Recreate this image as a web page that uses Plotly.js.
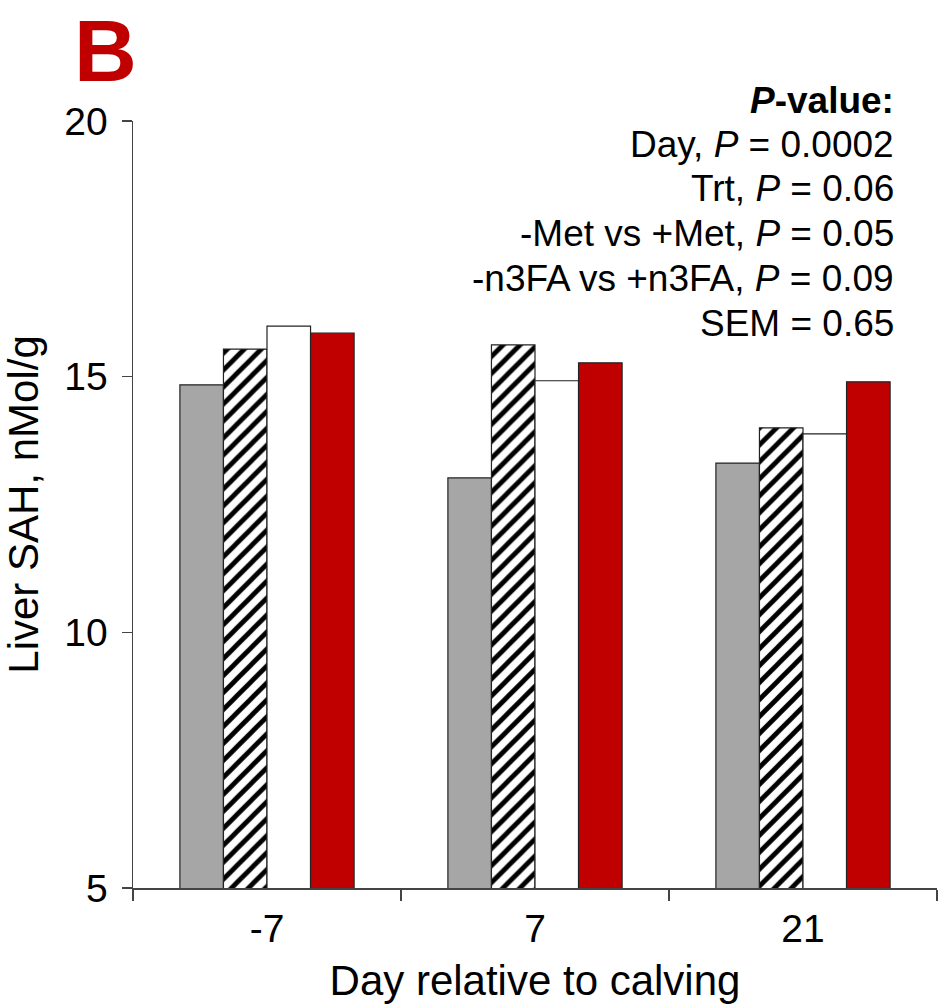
<!DOCTYPE html>
<html><head><meta charset="utf-8">
<script src="https://cdn.plot.ly/plotly-3.0.1.min.js"></script>
<style>html,body{margin:0;padding:0;background:#fff}</style>
</head><body>
<div id="chart" style="width:948px;height:1008px"></div>
<script>
const categories = ["-7", "7", "21"];
const seriesNames = ["-Met -n3FA", "+Met -n3FA", "-Met +n3FA", "+Met +n3FA"];
const ctrl = [14.84, 13.02, 13.31];
const met = [15.54, 15.62, 14.00];
const n3fa = [15.99, 14.92, 13.88];
const metN3fa = [15.85, 15.27, 14.90];
const yTicks = [5, 10, 15, 20];
const pLines = ["Day, <i>P</i> = 0.0002", "Trt, <i>P</i> = 0.06", "-Met vs +Met, <i>P</i> = 0.05", "-n3FA vs +n3FA, <i>P</i> = 0.09", "SEM = 0.65"];

const FONT = "Liberation Sans, Arial, sans-serif";
const line = {color: "#222", width: 1.2};
const traces = [
  {y: ctrl, marker: {color: "#a6a6a6", line: line}},
  {y: met, marker: {color: "#ffffff", line: line, pattern: {shape: "/", fgcolor: "#000", bgcolor: "#fff", size: 12, solidity: 0.4}}},
  {y: n3fa, marker: {color: "#ffffff", line: line}},
  {y: metN3fa, marker: {color: "#c00000", line: line}}
].map((t, i) => Object.assign({type: "bar", x: categories, name: seriesNames[i], hoverinfo: "y"}, t));

const annotations = [
  {text: "<b><i>P</i>-value:</b>", x: 0.949, y: (888 - 100) / 767}
].concat(pLines.map((t, i) => ({text: t, x: 0.949, y: (888 - (144 + 44.8 * i)) / 767})))
 .map(a => Object.assign({xref: "paper", yref: "paper", xanchor: "right", yanchor: "middle", showarrow: false, font: {family: FONT, size: 37, color: "#000"}}, a));
annotations.push({text: "<b>B</b>", xref: "paper", yref: "paper", x: (72 - 133) / 804, y: 888 / 767, xanchor: "left", yanchor: "top", showarrow: false, font: {family: FONT, size: 87, color: "#c00000"}});

const layout = {
  width: 948, height: 1008,
  margin: {l: 133, r: 11, t: 121, b: 120},
  paper_bgcolor: "#fff", plot_bgcolor: "#fff",
  barmode: "group", bargap: 0.35, bargroupgap: 0,
  showlegend: false,
  font: {family: FONT, color: "#000"},
  xaxis: {
    type: "category", range: [-0.5, 2.5],
    showline: true, linecolor: "#444", linewidth: 1.5,
    ticks: "outside", tickson: "boundaries", ticklen: 11, tickcolor: "#444", tickwidth: 1.5,
    tickfont: {family: FONT, size: 39}, ticklabelstandoff: 6, showgrid: false, zeroline: false,
    title: {text: "Day relative to calving", font: {family: FONT, size: 42}, standoff: 16}
  },
  yaxis: {
    range: [5, 20], tickvals: yTicks,
    showline: true, linecolor: "#444", linewidth: 1.5,
    ticks: "outside", ticklen: 10, tickcolor: "#444", tickwidth: 1.5,
    tickfont: {family: FONT, size: 39}, ticklabelstandoff: 6, showgrid: false, zeroline: false,
    title: {text: "Liver SAH, nMol/g", font: {family: FONT, size: 42}, standoff: 12}
  },
  annotations: annotations
};
Plotly.newPlot("chart", traces, layout, {displayModeBar: false, staticPlot: true});
</script>
</body></html>
